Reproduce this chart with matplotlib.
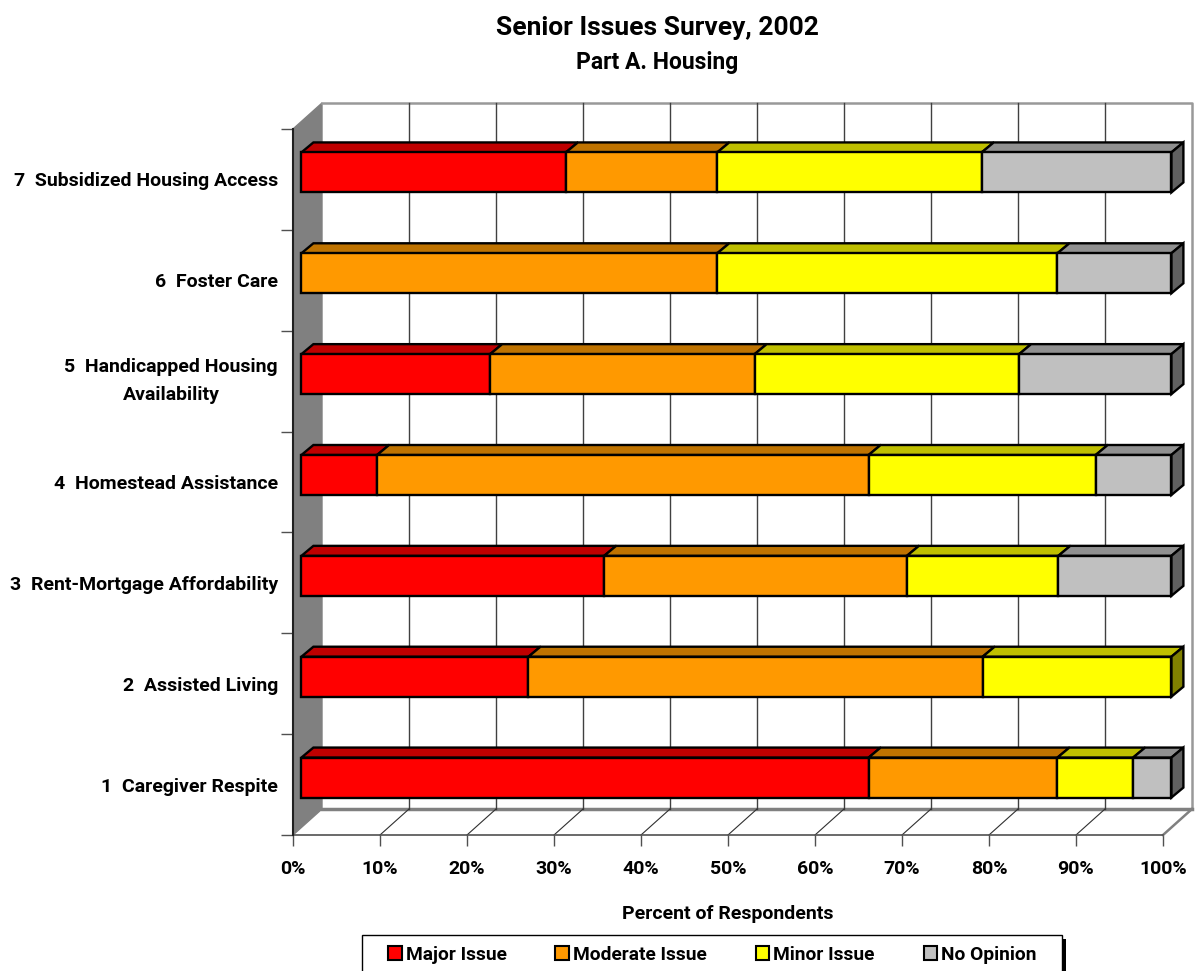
import matplotlib
matplotlib.use('Agg')
import matplotlib.pyplot as plt
from matplotlib.patches import Polygon, Patch, Rectangle

plt.rcParams['font.family'] = ['Roboto', 'Liberation Sans', 'DejaVu Sans']
plt.rcParams['font.weight'] = 'bold'

categories = ['1  Caregiver Respite', '2  Assisted Living', '3  Rent-Mortgage Affordability',
              '4  Homestead Assistance', '5  Handicapped Housing\nAvailability',
              '6  Foster Care', '7  Subsidized Housing Access']
series = ['Major Issue', 'Moderate Issue', 'Minor Issue', 'No Opinion']
major = [65.2, 26.1, 34.8, 8.7, 21.7, 0, 30.4]
moderate = [21.7, 52.2, 34.8, 56.5, 30.4, 47.8, 17.4]
minor = [8.7, 21.7, 17.4, 26.1, 30.4, 39.1, 30.4]
no_opinion = [4.4, 0, 13.0, 8.7, 17.5, 13.1, 21.8]
front = ['#FF0000', '#FF9900', '#FFFF00', '#C0C0C0']
top = ['#BF0000', '#BF7300', '#BFBF00', '#909090']
side = ['#800000', '#805000', '#808000', '#606060']
xticks = list(range(0, 101, 10))

W, H = 1196, 971
fig = plt.figure(figsize=(W / 100, H / 100), dpi=100)
ax = fig.add_axes([293 / W, 1 - 835 / H, 870 / W, 706 / H])
ax.set_xlim(0, 100)
ax.set_ylim(0, 7)
for s in ax.spines.values():
    s.set_visible(False)

# pixel sizes in data units, for the fake 3d offsets
px = 100 / 870
py = 7 / 706
wall_dx, wall_dy = 29 * px, 26 * py
bar_dx, bar_dy = 8.4 * px, 7 * py
depth_dx, depth_dy = 12 * px, 10 * py
bar_h = 40 * py


def poly(pts, fc, ec='black', lw=1.7, z=3):
    ax.add_patch(Polygon(pts, closed=True, fc=fc, ec=ec, lw=lw, zorder=z,
                         clip_on=False, joinstyle='miter'))


# walls and floor
poly([(0, 0), (wall_dx, wall_dy), (wall_dx, 7 + wall_dy), (0, 7)], '#808080', ec='#808080', lw=1, z=1)
ax.plot([wall_dx, 100 + wall_dx, 100 + wall_dx], [7 + wall_dy, 7 + wall_dy, wall_dy],
        color='#999999', lw=1.8, zorder=1, clip_on=False)
ax.plot([wall_dx, 100 + wall_dx], [wall_dy, wall_dy], color='#808080', lw=2.5, zorder=1, clip_on=False)
ax.plot([100, 100 + wall_dx], [0, wall_dy], color='#808080', lw=1.8, zorder=1, clip_on=False)
for t in xticks:
    if 0 < t < 100:
        ax.plot([t + wall_dx] * 2, [wall_dy, 7 + wall_dy], color='#404040', lw=1, zorder=1, clip_on=False)
        ax.plot([t, t + wall_dx], [0, wall_dy], color='#303030', lw=0.8, zorder=1, clip_on=False)
ax.plot([0, 100], [0, 0], color='#505050', lw=1.2, zorder=2, clip_on=False)
ax.plot([0, 0], [0, 7], color='#202020', lw=1.5, zorder=2, clip_on=False)

# stacked bars, back row first
for i in range(6, -1, -1):
    left = 0
    y0 = i + 0.5 + bar_dy - bar_h / 2
    y1 = y0 + bar_h
    values = [major[i], moderate[i], minor[i], no_opinion[i]]
    last = max(k for k, v in enumerate(values) if v > 0)
    for k, v in enumerate(values):
        if v == 0:
            continue
        x0 = left + bar_dx
        x1 = x0 + v
        poly([(x0, y1), (x0 + depth_dx, y1 + depth_dy), (x1 + depth_dx, y1 + depth_dy), (x1, y1)], top[k])
        poly([(x0, y0), (x0, y1), (x1, y1), (x1, y0)], front[k], z=4)
        if k == last:
            poly([(x1, y0), (x1, y1), (x1 + depth_dx, y1 + depth_dy), (x1 + depth_dx, y0 + depth_dy)], side[k])
        left += v

# axes ticks and labels
ax.set_xticks(xticks)
ax.set_xticklabels([str(t) + '%' for t in xticks], fontsize=14, fontweight='bold')
ax.tick_params(axis='x', length=8, width=1, color='#505050', pad=10)
ax.set_yticks(range(8))
ax.set_yticklabels([])
ax.tick_params(axis='y', which='major', length=8.6, width=1, color='#505050')
ax.set_yticks([i + 0.5 for i in range(7)], minor=True)
ax.set_yticklabels(categories, minor=True, fontsize=14, fontweight='bold', ma='center', linespacing=1.67)
ax.tick_params(axis='y', which='minor', length=0, pad=10.8)
for lab in ax.get_yticklabels(minor=True):
    if '\n' in lab.get_text():
        lab.set_va('center')
ax.set_axisbelow(True)

fig.text(657 / W, 1 - 28 / H, 'Senior Issues Survey, 2002', ha='center', va='center', fontsize=19, fontweight='bold')
fig.text(657 / W, 1 - 62 / H, 'Part A. Housing', ha='center', va='center', fontsize=16.5, fontweight='bold')
fig.text(728 / W, 1 - 914 / H, 'Percent of Respondents', ha='center', va='center', fontsize=14, fontweight='bold')

# legend frame runs off the bottom of the picture
fig.add_artist(Rectangle((362 / W, -10 / H), 700 / W, 46 / H, transform=fig.transFigure,
                         fc='white', ec='black', lw=1))
fig.add_artist(Rectangle((1062 / W, 0), 4 / W, 32 / H, transform=fig.transFigure, fc='black', ec='none'))
handles = [Patch(fc=c, ec='black', lw=1.5, label=n) for c, n in zip(front, series)]
leg = fig.legend(handles=handles, ncol=4, loc='center left', bbox_to_anchor=(388 / W, 1 - 955 / H),
                 frameon=False, fontsize=13.8, borderpad=0, borderaxespad=0, handlelength=0.72,
                 handleheight=0.72, handletextpad=0.2, columnspacing=2.55)
for t in leg.get_texts():
    t.set_fontweight('bold')

fig.savefig('out.png', dpi=100)
